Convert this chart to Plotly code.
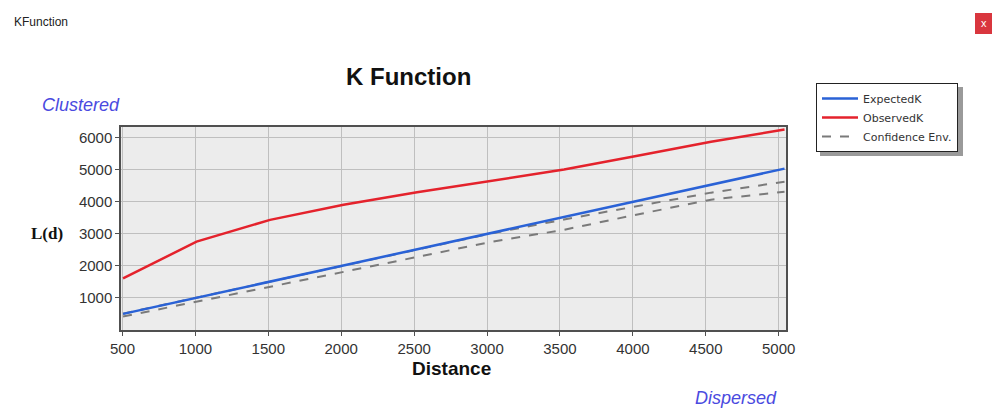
import plotly.graph_objects as go

# ---- data ----
distance = [504, 1008, 1512, 2016, 2520, 3024, 3528, 4032, 4536, 5040]
expected_k = [504, 1008, 1512, 2016, 2520, 3024, 3528, 4032, 4536, 5040]
observed_k = [1610, 2760, 3440, 3910, 4300, 4650, 5010, 5440, 5880, 6260]
conf_upper = [510, 1010, 1510, 2010, 2510, 3010, 3450, 3870, 4290, 4630]
conf_lower = [420, 880, 1340, 1800, 2280, 2750, 3130, 3610, 4070, 4320]
x_ticks = [500, 1000, 1500, 2000, 2500, 3000, 3500, 4000, 4500, 5000]
y_ticks = [1000, 2000, 3000, 4000, 5000, 6000]

W, H = 992, 412
L, R, T, B = 121, 206, 127, 82
pw, ph = W - L - R, H - T - B

def px(x):
    return (x - L) / pw

def py(y):
    return (H - B - y) / ph

fig = go.Figure()
fig.add_trace(go.Scatter(x=distance, y=conf_upper, mode="lines", name="Confidence Env.",
                         line=dict(color="#7a7a7a", width=2, dash="dash"), legendrank=3,
                         legendgroup="env"))
fig.add_trace(go.Scatter(x=distance, y=conf_lower, mode="lines", name="Confidence Env.",
                         line=dict(color="#7a7a7a", width=2, dash="dash"), showlegend=False,
                         legendgroup="env"))
fig.add_trace(go.Scatter(x=distance, y=expected_k, mode="lines", name="ExpectedK",
                         line=dict(color="#2a62d6", width=2.5), legendrank=1))
fig.add_trace(go.Scatter(x=distance, y=observed_k, mode="lines", name="ObservedK",
                         line=dict(color="#e4222c", width=2.5), legendrank=2))

axis_common = dict(
    showline=True, linecolor="#505050", linewidth=1.5, mirror=True,
    showgrid=True, gridcolor="#bfbfbf", gridwidth=1,
    ticks="outside", ticklen=4, tickcolor="#505050",
    tickfont=dict(family="Liberation Sans, Arial, sans-serif", size=15, color="#333333"),
    zeroline=False,
)

fig.update_layout(
    width=W, height=H,
    margin=dict(l=L, r=R, t=T, b=B, pad=0),
    paper_bgcolor="white",
    plot_bgcolor="#ececec",
    showlegend=True,
    legend=dict(
        x=px(816), y=py(83), xanchor="left", yanchor="top",
        bgcolor="white", bordercolor="#222222", borderwidth=1,
        font=dict(family="DejaVu Sans, Verdana, sans-serif", size=11, color="#333333"),
        tracegroupgap=0, itemwidth=36,
    ),
    xaxis=dict(axis_common, range=[490, 5050], tickvals=x_ticks),
    yaxis=dict(axis_common, range=[0, 6340], tickvals=y_ticks),
    shapes=[
        # legend shadow
        dict(type="rect", xref="paper", yref="paper",
             x0=px(820), x1=px(963), y0=py(87), y1=py(156),
             fillcolor="#9a9a9a", line=dict(width=0), layer="above"),
        # window close button
        dict(type="rect", xref="paper", yref="paper",
             x0=px(975), x1=px(992), y0=py(13), y1=py(34),
             fillcolor="#d9363e", line=dict(width=0)),
    ],
    annotations=[
        dict(text="KFunction", xref="paper", yref="paper", x=px(12), y=py(22),
             xanchor="left", yanchor="middle", showarrow=False,
             font=dict(family="Liberation Sans, Arial, sans-serif", size=12, color="#222222")),
        dict(text="x", xref="paper", yref="paper", x=px(984), y=py(23),
             xanchor="center", yanchor="middle", showarrow=False,
             font=dict(family="Liberation Sans, Arial, sans-serif", size=11, color="white")),
        dict(text="<b>K Function</b>", xref="paper", yref="paper", x=px(408), y=py(76),
             xanchor="center", yanchor="middle", showarrow=False,
             font=dict(family="Liberation Sans, Arial, sans-serif", size=24, color="#111111")),
        dict(text="<i>Clustered</i>", xref="paper", yref="paper", x=px(40), y=py(105),
             xanchor="left", yanchor="middle", showarrow=False,
             font=dict(family="Liberation Sans, Arial, sans-serif", size=18, color="#4a4ae0")),
        dict(text="<i>Dispersed</i>", xref="paper", yref="paper", x=px(779), y=py(398),
             xanchor="right", yanchor="middle", showarrow=False,
             font=dict(family="Liberation Sans, Arial, sans-serif", size=18, color="#4a4ae0")),
        dict(text="<b>L(d)</b>", xref="paper", yref="paper", x=px(47), y=py(233),
             xanchor="center", yanchor="middle", showarrow=False,
             font=dict(family="Liberation Serif, Times New Roman, serif", size=17, color="#111111")),
        dict(text="<b>Distance</b>", xref="paper", yref="paper", x=px(451), y=py(368),
             xanchor="center", yanchor="middle", showarrow=False,
             font=dict(family="Liberation Sans, Arial, sans-serif", size=19, color="#111111")),
    ],
)

fig.write_html("out.html")
